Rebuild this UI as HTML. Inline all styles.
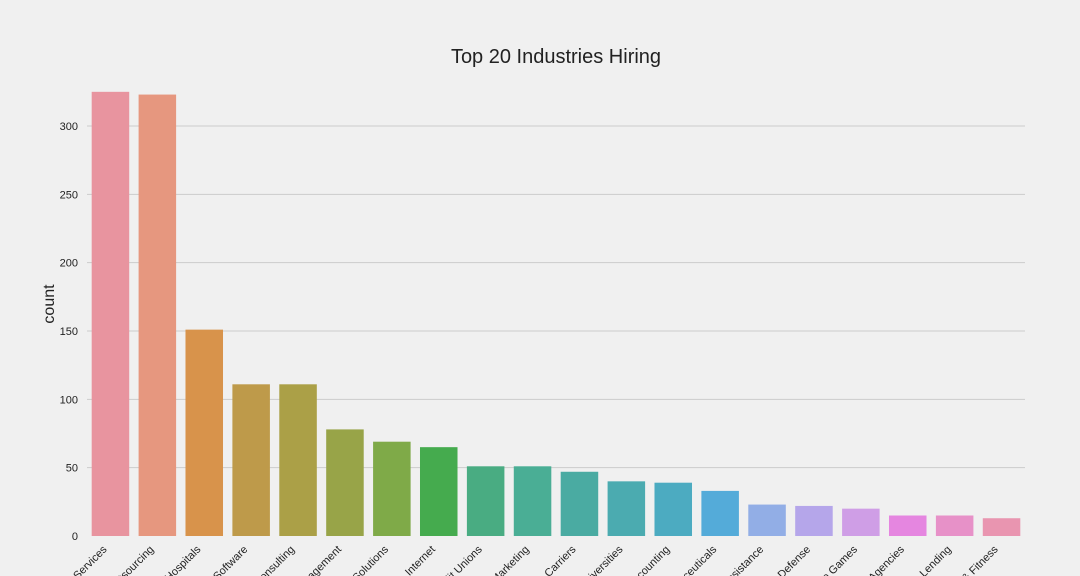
<!DOCTYPE html>
<html><head><meta charset="utf-8"><style>
html,body{margin:0;padding:0;background:#f0f0f0;width:1080px;height:576px;overflow:hidden;}
svg{display:block;font-family:"Liberation Sans",Arial,sans-serif;}
</style></head><body>
<svg id="chart" width="1080" height="576" viewBox="0 0 1080 576">
<rect width="1080" height="576" fill="#f0f0f0"/>
<text x="556" y="63" text-anchor="middle" font-size="20" fill="#222">Top 20 Industries Hiring</text>
<text transform="translate(54,304) rotate(-90)" text-anchor="middle" font-size="16" fill="#222">count</text>
<g id="grid"></g><g id="bars"></g><g id="labels"></g>
</svg>
<script>
const categories=["IT Services","Staffing & Outsourcing","Health Care Services & Hospitals","Computer Hardware & Software","Consulting","Investment Banking & Asset Management","Enterprise Software & Network Solutions","Internet","Banks & Credit Unions","Advertising & Marketing","Telecommunications Carriers","Colleges & Universities","Accounting","Biotech & Pharmaceuticals","Social Assistance","Aerospace & Defense","Video Games","Federal Agencies","Lending","Health, Beauty, & Fitness"];
const counts=[325,323,151,111,111,78,69,65,51,51,47,40,39,33,23,22,20,15,15,13];
const colors=["#e8949f","#e6977f","#d8934b","#be9a4a","#aba047","#98a448","#7faa48","#45ab4e","#49ac82","#4aae95","#4aaba2","#4babb0","#4cabc1","#54abd9","#92aee6","#b5a6ea","#cf9ee6","#e586e0","#e791c8","#e995b0"];
const yTicks=[0,50,100,150,200,250,300];
const NS="http://www.w3.org/2000/svg";
const x0=87,x1=1025,yBase=536,yTop=126;
const yScale=v=>yBase-(v/300)*(yBase-yTop);
const step=(x1-x0)/categories.length;
const xc=i=>x0+step*(i+0.5);
const bw=step*0.8;
const grid=document.getElementById('grid'),bars=document.getElementById('bars'),labels=document.getElementById('labels');
yTicks.forEach(t=>{
  const y=yScale(t);
  if(t>0){const l=document.createElementNS(NS,'line');
  l.setAttribute('x1',x0);l.setAttribute('x2',x1);l.setAttribute('y1',y);l.setAttribute('y2',y);
  l.setAttribute('stroke','#cbcbcb');l.setAttribute('stroke-width','1');
  
  
  grid.appendChild(l);}
  const tx=document.createElementNS(NS,'text');
  tx.setAttribute('x',78);tx.setAttribute('y',y+4);tx.setAttribute('text-anchor','end');
  tx.setAttribute('font-size','11');tx.setAttribute('fill','#222');tx.textContent=t;
  
  
  grid.appendChild(tx);
});
categories.forEach((c,i)=>{
  const r=document.createElementNS(NS,'rect');
  const y=yScale(counts[i]);
  r.setAttribute('x',xc(i)-bw/2);r.setAttribute('y',y);r.setAttribute('width',bw);r.setAttribute('height',yBase-y);
  r.setAttribute('fill',colors[i]);
  
  
  bars.appendChild(r);
  const t=document.createElementNS(NS,'text');
  const lx=xc(i)-3,ly=550;
  t.setAttribute('transform','translate('+lx+','+ly+') rotate(-45)');
  t.setAttribute('text-anchor','end');t.setAttribute('font-size','11');t.setAttribute('fill','#222');
  t.textContent=c;
  
  
  labels.appendChild(t);
});
</script>
</body></html>
